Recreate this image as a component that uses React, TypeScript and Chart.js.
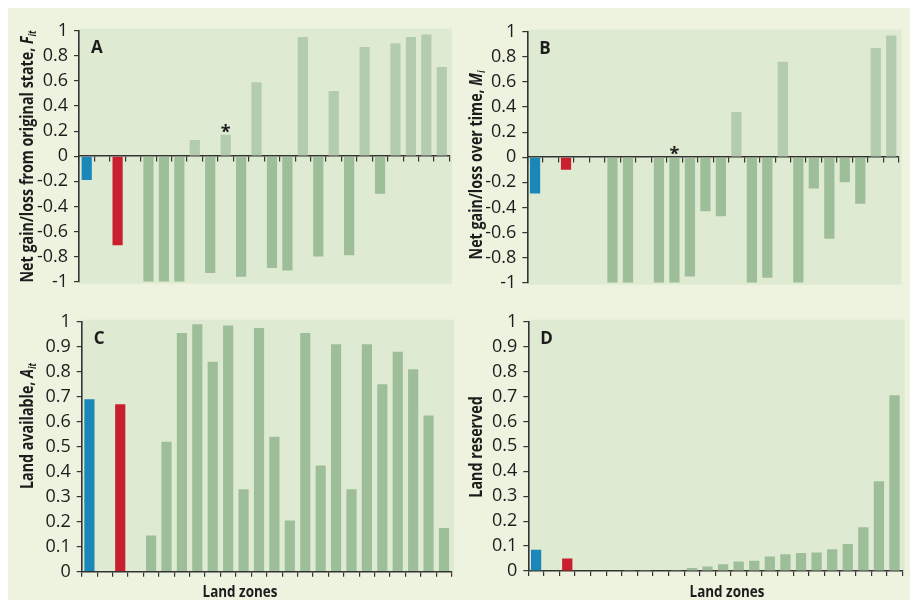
import React, { useEffect, useRef } from "react";
import { Chart, registerables } from "chart.js";
Chart.register(...registerables);

// ---------- data ----------
const zones = [
  "Blue", "", "Red", "",
  "Z1", "Z2", "Z3", "Z4", "Z5", "Z6", "Z7", "Z8", "Z9", "Z10",
  "Z11", "Z12", "Z13", "Z14", "Z15", "Z16", "Z17", "Z18", "Z19", "Z20",
];
const gainFromOriginal = [
  -0.19, null, -0.71, null,
  -1, -1, -1, 0.13, -0.93, 0.17, -0.96, 0.59, -0.89, -0.91,
  0.95, -0.8, 0.52, -0.79, 0.87, -0.3, 0.9, 0.95, 0.97, 0.71,
];
const gainOverTime = [
  -0.29, null, -0.1, null,
  0, -1, -1, 0, -1, -1, -0.95, -0.43, -0.47, 0.36,
  -1, -0.96, 0.76, -1, -0.25, -0.65, -0.2, -0.37, 0.87, 0.97,
];
const landAvailable = [
  0.69, null, 0.67, null,
  0.145, 0.52, 0.955, 0.99, 0.84, 0.985, 0.33, 0.975, 0.54, 0.205,
  0.955, 0.425, 0.91, 0.33, 0.91, 0.75, 0.88, 0.81, 0.625, 0.175,
];
const landReserved = [
  0.085, null, 0.05, null,
  0, 0, 0.001, 0.001, 0.002, 0.003, 0.012, 0.018, 0.027, 0.038,
  0.041, 0.058, 0.067, 0.072, 0.074, 0.087, 0.108, 0.175, 0.36, 0.705,
];
const signedTicks = [-1, -0.8, -0.6, -0.4, -0.2, 0, 0.2, 0.4, 0.6, 0.8, 1];
const unitTicks = [0, 0.1, 0.2, 0.3, 0.4, 0.5, 0.6, 0.7, 0.8, 0.9, 1];
const markedZone = 9; // zone marked with an asterisk in A and B

// ---------- styles ----------
const CREAM = "#eef3df";
const PLOT_BG = "#dfead2";
const BLUE = "#1b86b8";
const RED = "#c8202e";
const GREEN = "#9dbe99";
const GREEN_LIGHT = "#b3cbae";
const INK = "#1c1c1c";
const AXIS = "#333";
const FONT = "'Open Sans', sans-serif";
const COND = 0.84;

type Part = { text: string; font: string; dy: number };

function drawCondensed(ctx: CanvasRenderingContext2D, parts: Part[], x: number, y: number, rotate: boolean) {
  ctx.save();
  ctx.translate(x, y);
  if (rotate) ctx.rotate(-Math.PI / 2);
  ctx.scale(COND, 1);
  ctx.fillStyle = INK;
  ctx.textBaseline = "alphabetic";
  ctx.textAlign = "left";
  let total = 0;
  const widths = parts.map((p) => {
    ctx.font = p.font;
    const w = ctx.measureText(p.text).width;
    total += w;
    return w;
  });
  let cx = -total / 2;
  parts.forEach((p, i) => {
    ctx.font = p.font;
    ctx.fillText(p.text, cx, p.dy);
    cx += widths[i];
  });
  ctx.restore();
}

function titleParts(main: string, sym: string, sub: string): Part[] {
  const parts: Part[] = [{ text: main, font: `bold 17px ${FONT}`, dy: 0 }];
  if (sym) parts.push({ text: sym, font: `italic bold 17px ${FONT}`, dy: 0 });
  if (sub) parts.push({ text: sub, font: `italic bold 10px ${FONT}`, dy: 3 });
  return parts;
}

type Panel = {
  id: string;
  letter: string;
  values: (number | null)[];
  ticks: number[];
  signed: boolean;
  title: [string, string, string];
  left: number;
  top: number;
  width: number;
  height: number;
  yWidth: number;
  pad: { left: number; right: number; top: number; bottom: number };
  titleX: number;
  titleY: number;
  xLabelX?: number;
};

const panels: Panel[] = [
  {
    id: "A", letter: "A", values: gainFromOriginal, ticks: signedTicks, signed: true,
    title: ["Net gain/loss from original state, ", "F", "it"],
    left: 0, top: 0, width: 455, height: 300, yWidth: 79,
    pad: { left: 0, right: 5.5, top: 30.7, bottom: 18.3 },
    titleX: 33, titleY: 156.5,
  },
  {
    id: "B", letter: "B", values: gainOverTime, ticks: signedTicks, signed: true,
    title: ["Net gain/loss over time, ", "M", "i"],
    left: 455, top: 0, width: 455, height: 300, yWidth: 72.3,
    pad: { left: 0, right: 11, top: 31.7, bottom: 17.3 },
    titleX: 27, titleY: 165,
  },
  {
    id: "C", letter: "C", values: landAvailable, ticks: unitTicks, signed: false,
    title: ["Land available, ", "A", "it"],
    left: 0, top: 300, width: 455, height: 301, yWidth: 81.7,
    pad: { left: 0, right: 3.3, top: 21.7, bottom: 24.3 },
    titleX: 33, titleY: 126, xLabelX: 240,
  },
  {
    id: "D", letter: "D", values: landReserved, ticks: unitTicks, signed: false,
    title: ["Land reserved", "", ""],
    left: 455, top: 300, width: 455, height: 301, yWidth: 73.3,
    pad: { left: 0, right: 7.7, top: 21.7, bottom: 25 },
    titleX: 27, titleY: 147, xLabelX: 272,
  },
];

function PanelChart({ p }: { p: Panel }) {
  const ref = useRef<HTMLCanvasElement | null>(null);
  useEffect(() => {
    if (!ref.current) return;
    const colors = p.values.map((v, i) => {
      if (i === 0) return BLUE;
      if (i === 2) return RED;
      if (p.signed && v !== null && v > 0) return GREEN_LIGHT;
      return GREEN;
    });
    const deco = {
      id: "deco" + p.id,
      beforeDraw(chart: any) {
        const { ctx, chartArea: a } = chart;
        ctx.save();
        ctx.fillStyle = PLOT_BG;
        ctx.fillRect(a.left, a.top - 2, a.right - a.left + 2.5, a.bottom - a.top + (p.signed ? 4 : 2));
        ctx.restore();
      },
      afterDraw(chart: any) {
        const { ctx, chartArea: a, scales } = chart;
        drawCondensed(ctx, titleParts(p.title[0], p.title[1], p.title[2]), p.titleX, p.titleY, true);
        ctx.save();
        ctx.fillStyle = INK;
        ctx.font = `bold 17px ${FONT}`;
        ctx.textAlign = "left";
        ctx.textBaseline = "alphabetic";
        ctx.fillText(p.letter, a.left + 12, a.top + 22);
        ctx.restore();
        if (p.signed) {
          const v = p.values[markedZone] as number;
          const x = scales.x.getPixelForValue(markedZone);
          const y = Math.min(scales.y.getPixelForValue(v), scales.y.getPixelForValue(0)) + 3;
          ctx.save();
          ctx.fillStyle = INK;
          ctx.font = `bold 18px ${FONT}`;
          ctx.textAlign = "center";
          ctx.textBaseline = "alphabetic";
          ctx.fillText("*", x, y);
          ctx.restore();
        }
        if (p.xLabelX !== undefined) {
          drawCondensed(ctx, [{ text: "Land zones", font: `bold 16px ${FONT}`, dy: 0 }], p.xLabelX, 297, false);
        }
      },
    };
    const chart = new Chart(ref.current, {
      type: "bar",
      data: {
        labels: zones,
        datasets: [
          {
            data: p.values as any,
            backgroundColor: colors,
            borderWidth: 0,
            categoryPercentage: 1,
            barPercentage: 0.66,
          },
        ],
      },
      options: {
        animation: false,
        responsive: false,
        devicePixelRatio: 1,
        layout: { padding: p.pad },
        plugins: { legend: { display: false }, tooltip: { enabled: false }, title: { display: false } },
        scales: {
          x: {
            type: "category",
            position: p.signed ? ({ y: 0 } as any) : "bottom",
            z: 1,
            offset: true,
            ticks: { display: false },
            grid: { display: true, drawOnChartArea: false, drawTicks: true, tickLength: 5, color: AXIS, lineWidth: 1.2, offset: true },
            border: { display: true, color: AXIS, width: 1.6 },
          },
          y: {
            min: p.ticks[0],
            max: p.ticks[p.ticks.length - 1],
            afterBuildTicks: (s: any) => {
              s.ticks = p.ticks.map((v) => ({ value: v }));
            },
            afterFit: (s: any) => {
              s.width = p.yWidth;
            },
            ticks: {
              color: INK,
              font: { family: FONT, size: 18 },
              padding: 6,
              autoSkip: false,
              callback: (v: any) => String(Number(v)),
            },
            grid: { drawOnChartArea: false, drawTicks: true, tickLength: 5, color: AXIS, lineWidth: 1.2 },
            border: { display: true, color: AXIS, width: 1.6 },
          },
        },
      },
      plugins: [deco],
    });
    return () => chart.destroy();
  }, [p]);
  return (
    <canvas
      ref={ref}
      width={p.width}
      height={p.height}
      style={{ position: "absolute", left: p.left, top: p.top, width: p.width, height: p.height }}
    />
  );
}

export default function App() {
  useEffect(() => {
    document.body.style.margin = "0";
  }, []);
  return (
    <div style={{ position: "absolute", left: 0, top: 0, width: 910, height: 601, background: "#ffffff", overflow: "hidden" }}>
      <div style={{ position: "absolute", left: 8, top: 8, width: 902, height: 592, background: CREAM }} />
      {panels.map((p) => (
        <PanelChart key={p.id} p={p} />
      ))}
    </div>
  );
}
